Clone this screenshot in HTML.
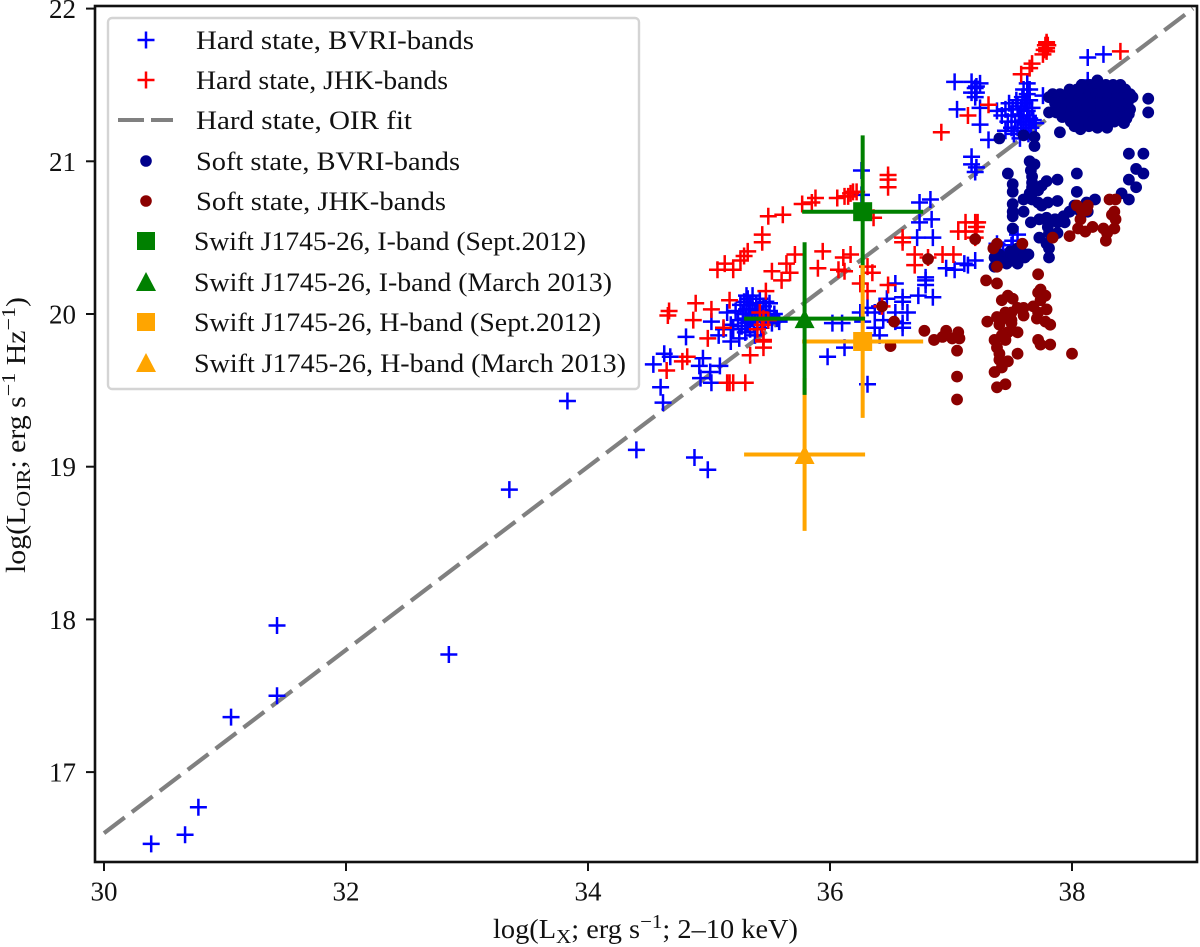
<!DOCTYPE html>
<html lang="en">
<head>
<meta charset="utf-8">
<title>OIR vs X-ray luminosity</title>
<style>
html,body{margin:0;padding:0;background:#fff;}
svg{display:block;}
text{font-family:"Liberation Serif",serif;fill:#111;}
</style>
</head>
<body>
<svg id="chart" xmlns="http://www.w3.org/2000/svg" width="1200" height="947" viewBox="0 0 1200 947">
  <rect x="95" y="6" width="1102" height="856" fill="#fff"/>
  <g id="fit-layer"></g>
  <g id="marks"></g>
  <g id="swift"></g>
  <rect x="95" y="6" width="1102" height="856" fill="none" stroke="#111" stroke-width="2.6"/>
  <g id="ticks"></g>
  <text x="493" y="938" font-size="27" textLength="305" lengthAdjust="spacingAndGlyphs">log(L<tspan font-size="20" dy="5">X</tspan><tspan dy="-5">; erg s</tspan><tspan font-size="20" dy="-10">−1</tspan><tspan dy="10">; 2–10 keV)</tspan></text>
  <text transform="translate(25,573) rotate(-90)" font-size="27" textLength="276" lengthAdjust="spacingAndGlyphs">log(L<tspan font-size="20" dy="5">OIR</tspan><tspan dy="-5">; erg s</tspan><tspan font-size="20" dy="-10">−1</tspan><tspan dy="10"> Hz</tspan><tspan font-size="20" dy="-10">−1</tspan><tspan dy="10">)</tspan></text>
  <g id="legend">
    <rect x="108" y="18" width="531" height="371" rx="4" fill="#fff" fill-opacity="0.85" stroke="#d4d4d4" stroke-width="2.4"/>
    <g><path d="M137.500 40h17M146 31.500v17" stroke="#00f" stroke-width="2.5" fill="none"/><text x="196" y="49" font-size="26" textLength="278" lengthAdjust="spacingAndGlyphs">Hard state, BVRI-bands</text></g>
    <g><path d="M137.500 80h17M146 71.500v17" stroke="#f00" stroke-width="2.500" fill="none"/><text x="196" y="89" font-size="26" textLength="252" lengthAdjust="spacingAndGlyphs">Hard state, JHK-bands</text></g>
    <g><path d="M118 120h26M151 120h22" stroke="#808080" stroke-width="4" fill="none"/><text x="196" y="129" font-size="26" textLength="216" lengthAdjust="spacingAndGlyphs">Hard state, OIR fit</text></g>
    <g><circle cx="146" cy="161" r="5.8" fill="#00008b"/><text x="196" y="170" font-size="26" textLength="264" lengthAdjust="spacingAndGlyphs">Soft state, BVRI-bands</text></g>
    <g><circle cx="146" cy="201" r="5.8" fill="#8b0000"/><text x="196" y="210" font-size="26" textLength="250" lengthAdjust="spacingAndGlyphs">Soft state, JHK-bands</text></g>
    <g><rect x="137" y="232" width="18" height="18" fill="#008000"/><text x="194" y="250" font-size="26" textLength="392" lengthAdjust="spacingAndGlyphs">Swift J1745-26, I-band (Sept.2012)</text></g>
    <g><path d="M146 272l10 19h-20z" fill="#008000"/><text x="194" y="291" font-size="26" textLength="418" lengthAdjust="spacingAndGlyphs">Swift J1745-26, I-band (March 2013)</text></g>
    <g><rect x="137" y="313" width="18" height="18" fill="#ffa500"/><text x="194" y="331" font-size="26" textLength="407" lengthAdjust="spacingAndGlyphs">Swift J1745-26, H-band (Sept.2012)</text></g>
    <g><path d="M146 353l10 19h-20z" fill="#ffa500"/><text x="194" y="372" font-size="26" textLength="432" lengthAdjust="spacingAndGlyphs">Swift J1745-26, H-band (March 2013)</text></g>
  </g>
</svg>
<script>
const xTicks = [30, 32, 34, 36, 38];
const yTicks = [17, 18, 19, 20, 21, 22];
const fitX = [30, 39];
const fitY = [16.6, 22];

const hardBvri = [
[30.39,16.53],[30.67,16.59],[30.78,16.77],[31.05,17.36],[31.43,17.50],[31.43,17.96],[32.85,17.77],[33.35,18.85],[33.83,19.43],[34.40,19.11],[34.88,19.06],[34.99,18.98],
[35.31,20.12],[35.15,20.01],[35.02,19.95],[34.81,19.85],[35.18,19.82],[34.63,19.74],[34.68,19.72],[34.54,19.67],[34.95,19.71],[34.92,19.66],[35.09,19.66],[35.01,19.62],[34.93,19.58],[35.02,19.55],[34.60,19.52],[34.62,19.42],[35.98,19.72],[36.31,19.54],
[35.22,20.02],[35.24,19.96],[35.26,20.06],[35.27,19.92],[35.28,20.00],[35.29,20.08],[35.30,19.97],[35.30,19.88],[35.31,20.03],[35.32,20.10],[35.32,19.94],[35.33,20.00],[35.34,19.90],[35.34,20.06],[35.35,19.97],[35.36,20.03],[35.36,20.12],[35.37,19.93],[35.38,20.00],[35.38,19.86],[35.39,20.07],[35.40,19.96],[35.41,20.02],[35.42,20.10],[35.43,19.91],[35.44,20.00],[35.45,20.05],[35.46,19.95],[35.47,20.08],[35.48,19.98],[35.50,20.02],[35.52,19.94],[35.54,20.00],[35.56,19.97],[35.20,19.90],[35.25,19.84],[35.18,19.93],[35.12,19.90],[35.08,19.86],[35.50,20.07],[35.58,19.95],
[36.26,20.94],[36.26,20.78],[36.74,20.73],[36.83,20.75],[36.74,20.60],[36.84,20.62],[36.72,20.50],[36.85,20.50],[36.96,20.30],[37.03,20.29],[37.11,20.33],[37.20,20.35],[37.14,20.32],[36.79,20.24],[36.79,20.22],[36.79,20.19],[36.73,20.12],[36.85,20.11],[36.54,20.20],[36.47,20.10],[36.60,20.11],[36.60,20.08],[36.41,20.05],[36.31,20.04],[36.25,20.01],[36.37,20.01],[36.54,20.01],[36.64,20.01],[36.27,19.95],[36.44,19.96],[36.54,19.95],[36.60,19.94],[36.60,19.91],[36.37,19.91],[36.41,19.86],[36.12,19.78],[36.10,19.94],[36.02,19.94],
[37.38,20.46],[37.51,20.48],[37.55,20.52],[37.43,20.42],[37.50,20.45],[37.40,20.39],
[37.03,21.52],[37.17,21.52],[37.24,21.51],[37.21,21.49],[37.20,21.48],[37.21,21.45],[37.17,21.45],[37.20,21.42],[37.05,21.34],[37.24,21.35],[37.24,21.24],[37.31,21.14],[37.17,21.03],[37.17,20.98],[37.21,20.96],[37.20,20.93],[37.63,21.51],[38.13,21.68],[38.26,21.70],[38.13,21.53],[37.76,21.43],
[37.42,21.30],[37.45,21.34],[37.47,21.26],[37.48,21.38],[37.50,21.22],[37.50,21.30],[37.51,21.34],[37.52,21.18],[37.53,21.26],[37.54,21.40],[37.55,21.36],[37.55,21.22],[37.56,21.30],[37.57,21.15],[37.58,21.26],[37.58,21.34],[37.59,21.42],[37.60,21.20],[37.60,21.30],[37.61,21.38],[37.62,21.24],[37.63,21.44],[37.63,21.33],[37.64,21.18],[37.65,21.28],[37.65,21.40],[37.66,21.22],[37.67,21.35],[37.68,21.27],[37.45,21.20],[37.70,21.25],[37.38,21.33],[37.65,21.47],[37.60,21.47]
];

const hardJhk = [
[37.79,21.78],[37.79,21.77],[37.78,21.76],[37.80,21.76],[37.77,21.73],[37.76,21.70],[37.79,21.74],[37.79,21.72],[37.67,21.64],[37.65,21.61],[37.58,21.57],[37.31,21.37],[37.14,21.30],[36.92,21.19],[38.40,21.72],
[36.48,20.91],[36.48,20.88],[36.48,20.83],[36.19,20.80],[36.15,20.77],[36.06,20.76],[35.88,20.76],[35.85,20.73],[35.77,20.72],[35.61,20.65],[35.49,20.64],[35.44,20.52],[35.44,20.47],[35.32,20.41],[35.26,20.35],[35.29,20.38],[35.13,20.33],[35.07,20.29],[35.20,20.29],
[35.71,20.39],[35.64,20.33],[35.67,20.27],[35.52,20.28],[35.60,20.22],[35.47,20.15],[35.94,20.41],[35.90,20.30],[36.07,20.29],
[35.17,20.09],[34.89,20.07],[35.02,20.03],[34.67,20.02],[34.66,19.99],[34.87,19.96],[35.12,19.91],[34.99,19.84],[35.45,19.97],[35.44,19.93],[35.40,19.90],[35.45,19.83],[35.45,19.78],[35.45,19.82],[35.49,19.96],[35.42,20.01],
[34.82,19.72],[34.78,19.69],[34.65,19.63],[35.34,19.73],[35.17,19.55],[35.15,19.55],[35.30,19.55],[35.20,19.55],
[36.17,20.79],[36.12,20.77],[36.22,20.80],[36.36,20.63],[36.60,20.50],[36.60,20.47],[36.70,20.39],[36.70,20.32],[36.17,20.39],[36.11,20.37],[36.31,20.31],[36.12,20.28],[36.35,20.27],[36.25,20.20],[36.31,20.15],[36.48,20.19],[36.93,20.39],[37.02,20.39],[36.81,20.37],[37.12,20.60],[37.20,20.60],[37.22,20.60],[37.06,20.54],[37.12,20.54],[37.20,20.54],[37.21,20.57],[37.20,20.50],[36.43,20.05]
];

const softBvri = [
[38.21,21.53],
[38.08,21.50],[38.14,21.50],[38.20,21.50],[38.28,21.50],[38.34,21.50],[38.40,21.50],
[37.98,21.47],[38.04,21.47],[38.10,21.47],[38.16,21.47],[38.22,21.47],[38.28,21.47],[38.34,21.47],[38.40,21.47],[38.44,21.47],
[37.84,21.44],[37.90,21.44],[37.96,21.44],[38.02,21.44],[38.08,21.44],[38.14,21.44],[38.20,21.44],[38.26,21.44],[38.32,21.44],[38.38,21.44],[38.44,21.44],[38.48,21.44],
[37.81,21.42],[37.88,21.41],[37.94,21.41],[38.00,21.41],[38.06,21.41],[38.12,21.41],[38.18,21.41],[38.24,21.41],[38.30,21.41],[38.36,21.41],[38.42,21.41],[38.50,21.42],
[37.86,21.38],[37.92,21.38],[37.98,21.38],[38.04,21.38],[38.10,21.38],[38.16,21.38],[38.22,21.38],[38.28,21.38],[38.34,21.38],[38.40,21.38],[38.46,21.38],
[37.88,21.35],[37.94,21.35],[38.00,21.35],[38.06,21.35],[38.12,21.35],[38.18,21.35],[38.24,21.35],[38.30,21.35],[38.36,21.35],[38.42,21.35],[38.48,21.34],
[37.81,21.32],[37.87,21.32],[37.93,21.32],[37.99,21.32],[38.05,21.32],[38.11,21.32],[38.17,21.32],[38.23,21.32],[38.29,21.32],[38.35,21.32],[38.41,21.32],[38.47,21.31],
[37.92,21.29],[37.98,21.29],[38.04,21.29],[38.10,21.29],[38.16,21.29],[38.22,21.29],[38.28,21.29],[38.34,21.29],[38.40,21.29],[38.45,21.28],
[37.99,21.26],[38.05,21.26],[38.11,21.26],[38.17,21.26],[38.23,21.26],[38.29,21.26],[38.35,21.26],[38.43,21.25],
[38.02,21.23],[38.07,21.21],[38.14,21.23],[38.21,21.22],[38.29,21.22],[37.90,21.19],
[38.63,21.41],[38.63,21.32],
[37.40,21.15],[37.60,21.17],[37.69,21.16],[37.69,21.10],
[38.47,21.05],[38.59,21.05],[38.53,20.95],[38.59,20.92],[38.47,20.88],[38.53,20.83],[38.41,20.79],[38.47,20.75],
[38.04,20.92],[38.04,20.80],[37.47,20.92],[37.51,20.85],[37.51,20.80],[37.65,21.00],[37.69,20.98],[37.66,20.94],[37.67,20.90],[37.67,20.86],[37.67,20.83],[37.65,20.79],[37.79,20.87],[37.75,20.84],[37.72,20.81],[37.88,20.88],[37.88,20.74],[37.60,20.75],[37.67,20.75],[37.72,20.73],[37.75,20.71],[37.80,20.73],[37.51,20.72],[37.51,20.67],[37.51,20.64],[37.60,20.67],[37.66,20.60],[37.73,20.62],[37.79,20.63],[37.86,20.62],[37.93,20.64],[37.98,20.67],[37.94,20.60],[37.88,20.60],[37.80,20.57],[37.81,20.53],[37.88,20.53],[38.12,20.73],[38.19,20.75],[38.13,20.67],[37.51,20.56],[37.73,20.50],[37.79,20.46],[37.81,20.43],[37.81,20.37],[38.02,20.71],[38.06,20.68],
[37.36,20.37],[37.46,20.37],[37.55,20.37],[37.61,20.37],[37.49,20.41],[37.55,20.43],[37.40,20.39],[37.36,20.31],[37.43,20.34],[37.55,20.33],[37.50,20.35],[37.59,20.40],[37.46,20.33],[37.51,20.39],[37.38,20.40],[37.64,20.39]
];

const softJhk = [
[37.20,20.49],[36.81,20.36],[36.43,20.05],[36.53,19.95],[36.78,19.89],[36.50,19.79],[36.96,19.89],[37.06,19.88],[36.86,19.83],[36.93,19.85],[37.01,19.84],[37.07,19.84],[37.05,19.76],[37.05,19.59],[37.05,19.44],
[37.35,20.43],[37.38,20.46],[37.59,20.46],[37.38,20.31],[37.29,20.22],[37.38,20.20],[37.72,20.26],
[37.47,20.12],[37.51,20.10],[37.42,20.09],[37.68,20.05],[37.72,20.14],[37.55,20.04],[37.60,20.04],[37.45,20.01],[37.50,20.01],[37.60,19.99],[37.72,20.01],[37.30,19.95],[37.38,19.98],[37.43,19.97],[37.50,19.96],[37.40,19.93],[37.50,19.94],[37.55,19.88],[37.47,19.88],[37.42,19.86],[37.36,19.83],[37.45,19.83],[37.38,19.78],[37.40,19.74],[37.55,19.74],[37.47,19.69],[37.40,19.70],[37.42,19.65],[37.36,19.62],[37.45,19.54],[37.38,19.52],[37.72,19.83],
[37.74,20.16],[37.78,20.12],[37.74,20.09],[37.79,20.03],[37.71,19.97],[37.78,19.95],[37.82,19.93],[37.82,19.80],[37.74,19.80],[38.00,19.74],
[38.04,20.71],[38.13,20.71],[38.08,20.68],[38.12,20.68],[38.07,20.62],[38.05,20.56],[38.11,20.54],[38.17,20.57],[38.26,20.56],[38.29,20.53],[38.28,20.48],[38.35,20.56],[38.36,20.62],[38.35,20.67],[38.31,20.75],[38.36,20.75],[38.33,20.65],[37.98,20.51],[37.84,20.50]
];

const swiftNames = ['swift-h-march', 'swift-i-sept', 'swift-h-sept', 'swift-i-march'];
const swiftColors = ['#ffa500', '#008000', '#ffa500', '#008000'];
const swiftShapes = ['triangle', 'square', 'square', 'triangle'];
const swiftLx = [35.79, 36.27, 36.27, 35.79];
const swiftLo = [19.08, 20.67, 19.82, 19.97];
const swiftErrX = [0.5, 0.5, 0.5, 0.5];
const swiftErrY = [0.5, 0.5, 0.5, 0.5];

const NS = 'http://www.w3.org/2000/svg';
function sx(v) { return 104 + (v - 30) * 121; }
function sy(v) { return 314 - (v - 20) * 152.7; }
function mk(tag, parent, attrs) {
  const el = document.createElementNS(NS, tag);
  for (const k in attrs) el.setAttribute(k, attrs[k]);
  parent.appendChild(el);
  return el;
}

const ticks = document.getElementById('ticks');
xTicks.forEach(function (v) {
  const t = mk('line', ticks, {x1: sx(v), x2: sx(v), y1: 862, y2: 871, stroke: '#111', 'stroke-width': 2});
  
  
  const l = mk('text', ticks, {x: sx(v), y: 900.5, 'font-size': 27, 'text-anchor': 'middle'});
  l.textContent = String(v);
  
  
});
yTicks.forEach(function (v) {
  const t = mk('line', ticks, {x1: 86, x2: 95, y1: sy(v), y2: sy(v), stroke: '#111', 'stroke-width': 2});
  
  
  const l = mk('text', ticks, {x: 76, y: sy(v) + 9.5, 'font-size': 27, 'text-anchor': 'end'});
  l.textContent = String(v);
  
  
});

const fit = mk('line', document.getElementById('fit-layer'), {
  x1: sx(fitX[0]), y1: sy(fitY[0]), x2: sx(fitX[1]), y2: sy(fitY[1]),
  stroke: '#808080', 'stroke-width': 4.2, 'stroke-dasharray': '26 9'
});



const marks = document.getElementById('marks');
hardBvri.forEach(function (p) {
  const x = sx(p[0]), y = sy(p[1]);
  const m = mk('path', marks, {d: 'M' + (x - 8.5) + ' ' + y + 'h17M' + x + ' ' + (y - 8.5) + 'v17', stroke: '#00f', 'stroke-width': 2.5, fill: 'none'});
  
  
});
hardJhk.forEach(function (p) {
  const x = sx(p[0]), y = sy(p[1]);
  const m = mk('path', marks, {d: 'M' + (x - 8.5) + ' ' + y + 'h17M' + x + ' ' + (y - 8.5) + 'v17', stroke: '#f00', 'stroke-width': 2.5, fill: 'none'});
  
  
});
softBvri.forEach(function (p) {
  const m = mk('circle', marks, {cx: sx(p[0]), cy: sy(p[1]), r: 5.9, fill: '#00008b'});
  
  
});
softJhk.forEach(function (p) {
  const m = mk('circle', marks, {cx: sx(p[0]), cy: sy(p[1]), r: 5.9, fill: '#8b0000'});
  
  
});

const swift = document.getElementById('swift');
swiftLx.forEach(function (lx, i) {
  const g = mk('g', swift, {});
  
  
  const x = sx(lx), y = sy(swiftLo[i]), c = swiftColors[i];
  mk('line', g, {x1: sx(lx - swiftErrX[i]), x2: sx(lx + swiftErrX[i]), y1: y, y2: y, stroke: c, 'stroke-width': 4});
  mk('line', g, {x1: x, x2: x, y1: sy(swiftLo[i] + swiftErrY[i]), y2: sy(swiftLo[i] - swiftErrY[i]), stroke: c, 'stroke-width': 4});
  if (swiftShapes[i] === 'square') {
    mk('rect', g, {x: x - 9.5, y: y - 9.5, width: 19, height: 19, fill: c});
  } else {
    mk('path', g, {d: 'M' + x + ' ' + (y - 9.5) + 'l10 19h-20z', fill: c});
  }
});
</script>
</body>
</html>
